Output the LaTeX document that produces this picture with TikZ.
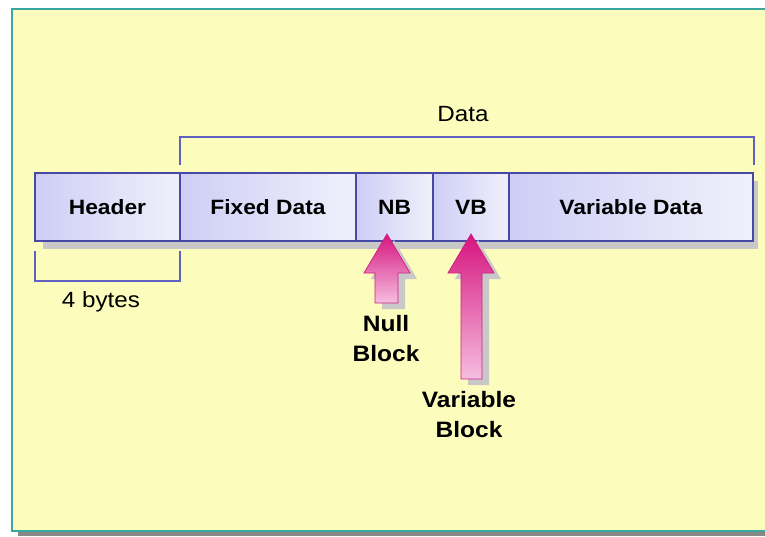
\documentclass[tikz,border=0pt]{standalone}
\usepackage{fontspec}
\setmainfont{Liberation Sans}[FakeStretch=1.1]
\definecolor{panelfill}{RGB}{252,252,188}
\definecolor{paneledge}{RGB}{56,168,160}
\definecolor{panelshadow}{RGB}{136,136,136}
\definecolor{cellline}{RGB}{72,72,168}
\definecolor{bracketline}{RGB}{96,96,192}
\definecolor{cellleft}{RGB}{206,206,246}
\definecolor{cellright}{RGB}{240,240,251}
\definecolor{dropshadow}{RGB}{200,200,200}
\definecolor{arrowtop}{RGB}{214,20,126}
\definecolor{arrowbottom}{RGB}{246,190,224}
\definecolor{arrowedge}{RGB}{208,32,128}
\tikzset{
  cell/.style={draw=cellline, line width=1.2pt, left color=cellleft, right color=cellright,
    minimum height=68pt, inner sep=0pt, outer sep=0pt, anchor=north west,
    font=\bfseries\fontsize{20.7}{22}\selectfont},
  bracket/.style={draw=bracketline, line width=1.3pt},
  plainlabel/.style={font=\fontsize{22}{24}\selectfont, inner sep=0pt},
  arrowlabel/.style={font=\bfseries\fontsize{22.3}{30}\selectfont, align=center, inner sep=0pt},
  blockarrow/.style={draw=arrowedge, line width=0.8pt, top color=arrowtop, bottom color=arrowbottom},
  arrowshadow/.style={fill=dropshadow}
}
\begin{document}
\begin{tikzpicture}[x=1pt,y=-1pt]
\useasboundingbox (0,0) rectangle (765,536);
\fill[white] (0,0) rectangle (765,536);
% slide panel with its shadow
\fill[panelshadow] (18,531) rectangle (766,536);
\fill[panelfill] (12,9) rectangle (766,531);
\draw[paneledge, line width=2pt] (766,9) -- (12,9) -- (12,531) -- (766,531);

% record layout bar
\fill[dropshadow] (43,181) rectangle (758,249);
\node[cell, minimum width=145pt] (header) at (35,173) {Header};
\node[cell, minimum width=176pt] (fixed) at (180,173) {Fixed Data};
\node[cell, minimum width=77pt] (nb) at (356,173) {NB};
\node[cell, minimum width=76pt] (vb) at (433,173) {VB};
\node[cell, minimum width=244pt] (vardata) at (509,173) {Variable Data};

% bracket over the data part
\coordinate (dl) at (180,137);
\coordinate (dr) at (754,137);
\draw[bracket] (fixed.north west) ++(0,-8) -- (dl) -- (dr) -- ++(0,28);
\node[plainlabel] (datalabel) at (463,114) {Data};

% bracket under the header
\coordinate (hl) at (35,281);
\coordinate (hr) at (180,281);
\draw[bracket] ([yshift=-10pt]header.south west) -- (hl) -- (hr) -- ([yshift=-10pt]header.south east);
\node[plainlabel] (byteslabel) at (101,302) {4 bytes};

% null block arrow
\fill[arrowshadow, shift={(7,6)}] (387,234) -- (410,273) -- (398,273) -- (398,303) -- (375,303) -- (375,273) -- (364,273) -- cycle;
\path[blockarrow] (387,234) -- (410,273) -- (398,273) -- (398,303) -- (375,303) -- (375,273) -- (364,273) -- cycle;
\node[arrowlabel] (nulllabel) at (386,339) {Null\\Block};

% variable block arrow
\fill[arrowshadow, shift={(7,6)}] (471,234) -- (494,273) -- (482,273) -- (482,379) -- (461,379) -- (461,273) -- (448,273) -- cycle;
\path[blockarrow] (471,234) -- (494,273) -- (482,273) -- (482,379) -- (461,379) -- (461,273) -- (448,273) -- cycle;
\node[arrowlabel] (varlabel) at (469,415) {Variable\\Block};
\end{tikzpicture}
\end{document}
